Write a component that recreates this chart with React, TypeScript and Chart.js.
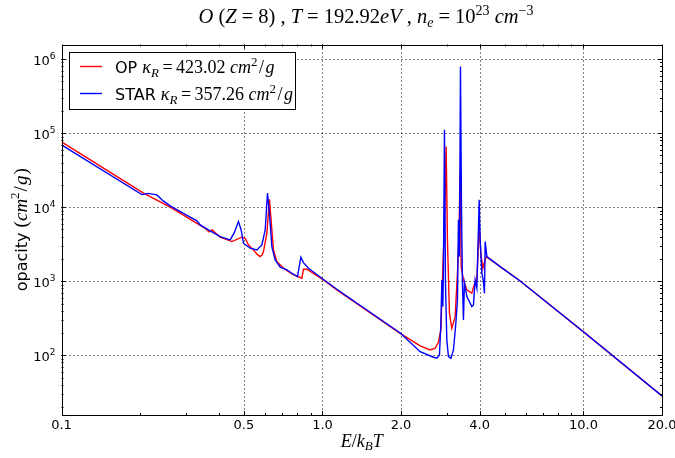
import { useEffect, useRef } from "react";
import { Chart, registerables } from "chart.js";

Chart.register(...registerables);

// ---- data (E/kBT, opacity cm^2/g) ----
const opEnergy = [0.1, 0.2062, 0.2609, 0.3553, 0.3681, 0.3779, 0.4055, 0.4496, 0.4911, 0.5055, 0.5205, 0.544, 0.5622, 0.5772, 0.5875, 0.5941, 0.6123, 0.6264, 0.6398, 0.649, 0.6687, 0.709, 0.7634, 0.8339, 0.8455, 0.8712, 1.009, 1.135, 1.985, 2.368, 2.586, 2.703, 2.783, 2.843, 2.893, 2.934, 2.978, 3.012, 3.066, 3.131, 3.224, 3.29, 3.331, 3.37, 3.4, 3.469, 3.575, 3.736, 3.813, 3.905, 3.985, 4.045, 4.117, 4.164, 4.238, 4.796, 5.721, 10.0, 20.0];
const opOpacity = [76200, 15460, 10000, 5170, 4635, 4930, 3932, 3427, 3932, 3810, 3094, 2649, 2301, 2150, 2267, 2512, 4453, 12820, 4930, 2649, 1841, 1498, 1255, 1098, 1452, 1452, 1041, 763, 198, 133.6, 118, 124.3, 151, 219.8, 1574, 5470, 65900, 3614, 369.5, 231.7, 332.4, 1282, 3614, 28810, 1574, 1041, 763, 688, 891, 1041, 5470, 2388, 1498, 1750, 2150, 1574, 1009, 207, 28.2];

const starEnergy = [0.1, 0.2032, 0.2149, 0.2319, 0.2454, 0.2609, 0.2979, 0.3303, 0.3399, 0.3713, 0.4055, 0.4429, 0.4588, 0.4766, 0.488, 0.498, 0.5284, 0.5607, 0.5859, 0.6033, 0.6156, 0.6264, 0.6398, 0.6589, 0.6886, 0.7307, 0.7634, 0.8022, 0.8265, 0.8455, 0.8838, 1.009, 1.135, 1.985, 2.368, 2.663, 2.744, 2.807, 2.843, 2.868, 2.893, 2.908, 2.934, 2.96, 2.996, 3.039, 3.104, 3.176, 3.244, 3.29, 3.319, 3.349, 3.379, 3.409, 3.439, 3.469, 3.5, 3.575, 3.736, 3.789, 3.846, 3.905, 3.985, 4.02, 4.081, 4.139, 4.176, 4.202, 4.266, 4.796, 5.721, 10.0, 20.0];
const starOpacity = [69500, 14790, 15370, 14660, 12160, 10410, 7990, 6530, 5770, 4790, 4006, 3614, 4495, 6385, 4930, 3262, 2793, 2649, 3094, 4930, 15460, 8300, 2935, 1941, 1545, 1421, 1282, 1153, 2110, 1784, 1498, 1057, 780, 200, 111.8, 94, 91, 101, 270.6, 1041, 454, 1574, 110800, 940, 161, 95.7, 91, 118, 270.6, 558, 6737, 2150, 794000, 10190, 940, 300, 940, 619, 454, 479, 1041, 804, 12550, 3614, 1282, 988, 688, 3427, 2150, 1574, 1009, 208, 28.2];

const xTickValues = [0.1, 0.5, 1, 2, 4, 10, 20];
const xTickLabels = ["0.1", "0.5", "1.0", "2.0", "4.0", "10.0", "20.0"];
const xMinorValues = [0.2, 0.3, 0.4, 0.6, 0.7, 0.8, 0.9, 3, 5, 6, 7, 8, 9];
const yTickValues = [1e2, 1e3, 1e4, 1e5, 1e6];
const yTickExponents = ["2", "3", "4", "5", "6"];
const yMin = 15.6;
const yMax = 1.575e6;

const opLabelValue = "423.02";
const starLabelValue = "357.26";

const RED = "#ff0000";
const BLUE = "#0000ff";

type Seg = { t: string; f: string; dy?: number; pre?: number; post?: number };
const mi = (s: number) => `italic ${s}px "Liberation Serif", serif`;
const mr = (s: number) => `${s}px "Liberation Serif", serif`;
const sans = (s: number) => `${s}px "DejaVu Sans", sans-serif`;

function drawRich(ctx: CanvasRenderingContext2D, segs: Seg[], x: number, y: number, align: "left" | "center" | "right") {
  let w = 0;
  const widths: number[] = [];
  for (const s of segs) {
    ctx.font = s.f;
    const m = ctx.measureText(s.t).width;
    widths.push(m);
    w += m + (s.pre || 0) + (s.post || 0);
  }
  let cx = align === "center" ? x - w / 2 : align === "right" ? x - w : x;
  ctx.textAlign = "left";
  ctx.textBaseline = "alphabetic";
  segs.forEach((s, i) => {
    cx += s.pre || 0;
    ctx.font = s.f;
    ctx.fillText(s.t, cx, y + (s.dy || 0));
    cx += widths[i] + (s.post || 0);
  });
  return w;
}

const decorPlugin = {
  id: "decor",
  beforeDatasetsDraw(chart: any) {
    const ctx: CanvasRenderingContext2D = chart.ctx;
    const { left, right, top, bottom } = chart.chartArea;
    const xs = chart.scales.x;
    const ys = chart.scales.y;
    ctx.save();
    ctx.strokeStyle = "#000";
    ctx.lineWidth = 1;
    ctx.setLineDash([1, 3]);
    for (const v of xTickValues) {
      const px = Math.round(xs.getPixelForValue(v)) + 0.5;
      if (px <= left + 1 || px >= right - 1) continue;
      ctx.beginPath();
      ctx.moveTo(px, top);
      ctx.lineTo(px, bottom);
      ctx.stroke();
    }
    for (const v of yTickValues) {
      const py = Math.round(ys.getPixelForValue(v)) + 0.5;
      if (py <= top + 1 || py >= bottom - 1) continue;
      ctx.beginPath();
      ctx.moveTo(left, py);
      ctx.lineTo(right, py);
      ctx.stroke();
    }
    ctx.restore();
  },
  afterDatasetsDraw(chart: any) {
    const ctx: CanvasRenderingContext2D = chart.ctx;
    const { left, right, top, bottom } = chart.chartArea;
    const xs = chart.scales.x;
    const ys = chart.scales.y;
    ctx.save();
    ctx.strokeStyle = "#000";
    ctx.fillStyle = "#000";
    ctx.lineWidth = 1;
    ctx.setLineDash([]);

    const tick = (x1: number, y1: number, x2: number, y2: number) => {
      ctx.beginPath();
      ctx.moveTo(x1, y1);
      ctx.lineTo(x2, y2);
      ctx.stroke();
    };
    const maj = 4, mnr = 2;
    for (const v of xTickValues) {
      const px = Math.round(xs.getPixelForValue(v)) + 0.5;
      tick(px, bottom, px, bottom - maj);
      tick(px, top, px, top + maj);
    }
    for (const v of xMinorValues) {
      const px = Math.round(xs.getPixelForValue(v)) + 0.5;
      tick(px, bottom, px, bottom - mnr);
      tick(px, top, px, top + mnr);
    }
    for (const v of yTickValues) {
      const py = Math.round(ys.getPixelForValue(v)) + 0.5;
      tick(left, py, left + maj, py);
      tick(right, py, right - maj, py);
    }
    for (let k = 1; k <= 6; k++) {
      for (let m = 2; m <= 9; m++) {
        const v = m * Math.pow(10, k);
        if (v < yMin || v > yMax) continue;
        const py = Math.round(ys.getPixelForValue(v)) + 0.5;
        tick(left, py, left + mnr, py);
        tick(right, py, right - mnr, py);
      }
    }

    ctx.strokeRect(Math.round(left) + 0.5, Math.round(top) + 0.5, Math.round(right) - Math.round(left), Math.round(bottom) - Math.round(top));

    // x tick labels
    ctx.font = sans(13);
    ctx.textAlign = "center";
    ctx.textBaseline = "alphabetic";
    xTickValues.forEach((v, i) => {
      const px = xs.getPixelForValue(v);
      ctx.fillText(xTickLabels[i], px, bottom + 14);
    });

    // y tick labels
    yTickValues.forEach((v, i) => {
      const py = ys.getPixelForValue(v);
      drawRich(ctx, [
        { t: "10", f: sans(13) },
        { t: yTickExponents[i], f: sans(9), dy: -6 },
      ], left - 6, py + 6, "right");
    });

    // x label
    drawRich(ctx, [
      { t: "E", f: mi(18) },
      { t: "/", f: mr(18) },
      { t: "k", f: mi(18) },
      { t: "B", f: mi(13), dy: 3 },
      { t: "T", f: mi(18) },
    ], (left + right) / 2, bottom + 32, "center");

    // y label
    ctx.save();
    ctx.translate(27, (top + bottom) / 2);
    ctx.rotate(-Math.PI / 2);
    drawRich(ctx, [
      { t: "opacity ", f: sans(16) },
      { t: "(", f: mr(19) },
      { t: "cm", f: mi(19) },
      { t: "2", f: mr(13), dy: -8 },
      { t: "/", f: mr(19), pre: 1 },
      { t: "g", f: mi(19), pre: 1 },
      { t: ")", f: mr(19), pre: 1 },
    ], 0, 0, "center");
    ctx.restore();

    // title
    const T = 20.5, S = 14, G = 5;
    drawRich(ctx, [
      { t: "O", f: mi(T) },
      { t: " (", f: mr(T) },
      { t: "Z", f: mi(T) },
      { t: "=", f: mr(T), pre: G, post: G },
      { t: "8", f: mr(T) },
      { t: ") , ", f: mr(T) },
      { t: "T", f: mi(T) },
      { t: "=", f: mr(T), pre: G, post: G },
      { t: "192.92", f: mr(T) },
      { t: "eV", f: mi(T) },
      { t: " , ", f: mr(T) },
      { t: "n", f: mi(T) },
      { t: "e", f: mi(S), dy: 4 },
      { t: "=", f: mr(T), pre: G, post: G },
      { t: "10", f: mr(T) },
      { t: "23", f: mr(S), dy: -8 },
      { t: " ", f: mr(T) },
      { t: "cm", f: mi(T) },
      { t: "\u22123", f: mr(S), dy: -8 },
    ], 366, 23, "center");

    // legend
    const lx = 69.5, ly = 52.5, lw = 226, lh = 57;
    ctx.fillStyle = "#fff";
    ctx.fillRect(lx, ly, lw, lh);
    ctx.strokeStyle = "#000";
    ctx.lineWidth = 1;
    ctx.strokeRect(lx, ly, lw, lh);
    const entries = [
      { name: "OP ", color: RED, val: opLabelValue, y: 66.5 },
      { name: "STAR ", color: BLUE, val: starLabelValue, y: 93.5 },
    ];
    const L = 18, LS = 13, LG = 3.5;
    for (const e of entries) {
      ctx.strokeStyle = e.color;
      ctx.lineWidth = 1.4;
      ctx.beginPath();
      ctx.moveTo(80, e.y);
      ctx.lineTo(102, e.y);
      ctx.stroke();
      ctx.fillStyle = "#000";
      drawRich(ctx, [
        { t: e.name, f: sans(16) },
        { t: "\u03ba", f: mi(L) },
        { t: "R", f: mi(LS), dy: 4 },
        { t: "=", f: mr(L), pre: LG, post: LG },
        { t: e.val + " ", f: mr(L) },
        { t: "cm", f: mi(L) },
        { t: "2", f: mr(LS), dy: -7 },
        { t: "/", f: mr(L), pre: 1.5 },
        { t: "g", f: mi(L), pre: 1.5 },
      ], 115, e.y + 6, "left");
    }
    ctx.restore();
  },
};

export default function App() {
  const ref = useRef<HTMLCanvasElement | null>(null);
  useEffect(() => {
    if (!ref.current) return;
    const chart = new Chart(ref.current, {
      type: "line",
      data: {
        datasets: [
          {
            label: "STAR",
            data: starEnergy.map((x, i) => ({ x, y: starOpacity[i] })),
            borderColor: BLUE,
            borderWidth: 1.4,
            pointRadius: 0,
            tension: 0,
            fill: false,
            order: 0,
          },
          {
            label: "OP",
            data: opEnergy.map((x, i) => ({ x, y: opOpacity[i] })),
            borderColor: RED,
            borderWidth: 1.4,
            pointRadius: 0,
            tension: 0,
            fill: false,
            order: 1,
          },
        ],
      },
      options: {
        animation: false,
        responsive: false,
        devicePixelRatio: 1,
        layout: { padding: { left: 61.5, right: 13, top: 44.5, bottom: 43 } },
        plugins: { legend: { display: false }, tooltip: { enabled: false }, title: { display: false } },
        scales: {
          x: {
            type: "logarithmic",
            min: 0.1,
            max: 20,
            ticks: { display: false },
            grid: { display: false },
            border: { display: false },
            afterFit: (s: any) => { s.height = 0; },
          },
          y: {
            type: "logarithmic",
            min: yMin,
            max: yMax,
            ticks: { display: false },
            grid: { display: false },
            border: { display: false },
            afterFit: (s: any) => { s.width = 0; },
          },
        },
      } as any,
      plugins: [decorPlugin],
    });
    return () => chart.destroy();
  }, []);
  return (
    <div style={{ position: "absolute", left: 0, top: 0, width: 675, height: 458, background: "#fff" }}>
      <canvas ref={ref} width={675} height={458} />
    </div>
  );
}
